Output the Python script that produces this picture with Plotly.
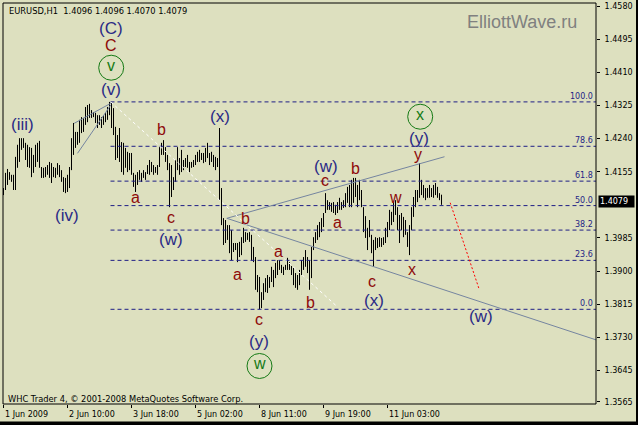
import plotly.graph_objects as go

# ---------------- data ----------------
highs = [
    1.4113, 1.4152, 1.4162, 1.4154, 1.4147, 1.4147, 1.4193, 1.4224, 1.4241, 1.4241,
    1.4241, 1.4229, 1.4224, 1.4218, 1.4216, 1.4198, 1.4224, 1.4229, 1.4234, 1.4167,
    1.4165, 1.4167, 1.4172, 1.4180, 1.4177, 1.4167, 1.4165, 1.4177, 1.4172, 1.4159,
    1.4141, 1.4139, 1.4147, 1.4167, 1.4241, 1.4280, 1.4257, 1.4257, 1.4288, 1.4295,
    1.4293, 1.4321, 1.4326, 1.4329, 1.4313, 1.4308, 1.4306, 1.4300, 1.4300, 1.4295,
    1.4300, 1.4306, 1.4321, 1.4334, 1.4332, 1.4318, 1.4270, 1.4249, 1.4267, 1.4231,
    1.4229, 1.4216, 1.4206, 1.4203, 1.4203, 1.4152, 1.4147, 1.4154, 1.4159, 1.4152,
    1.4159, 1.4154, 1.4172, 1.4185, 1.4180, 1.4172, 1.4167, 1.4172, 1.4218, 1.4229,
    1.4236, 1.4218, 1.4198, 1.4177, 1.4172, 1.4141, 1.4185, 1.4218, 1.4190, 1.4211,
    1.4185, 1.4190, 1.4198, 1.4180, 1.4180, 1.4185, 1.4198, 1.4206, 1.4211, 1.4203,
    1.4203, 1.4216, 1.4229, 1.4203, 1.4206, 1.4198, 1.4193, 1.4190, 1.4267, 1.4113,
    1.4036, 1.4031, 1.4018, 1.4018, 1.4005, 1.3972, 1.3972, 1.3972, 1.3975, 1.3987,
    1.4011, 1.4000, 1.3998, 1.4000, 1.3993, 1.3962, 1.3936, 1.3890, 1.3885, 1.3846,
    1.3869, 1.3882, 1.3890, 1.3885, 1.3911, 1.3903, 1.3921, 1.3928, 1.3928, 1.3916,
    1.3911, 1.3916, 1.3934, 1.3923, 1.3913, 1.3908, 1.3895, 1.3890, 1.3903, 1.3928,
    1.3936, 1.3954, 1.3936, 1.3928, 1.3962, 1.3987, 1.4000, 1.4018, 1.4026, 1.4036,
    1.4049, 1.4100, 1.4082, 1.4077, 1.4075, 1.4077, 1.4070, 1.4077, 1.4088, 1.4077,
    1.4082, 1.4100, 1.4116, 1.4121, 1.4134, 1.4139, 1.4139, 1.4121, 1.4134, 1.4108,
    1.4064, 1.4041, 1.4011, 1.4031, 1.3993, 1.3980, 1.3987, 1.3985, 1.3987, 1.3985,
    1.3987, 1.4011, 1.4026, 1.4057, 1.4052, 1.4077, 1.4082, 1.4064, 1.4044, 1.4049,
    1.4039, 1.4031, 1.4000, 1.4018, 1.4064, 1.4090, 1.4108, 1.4108, 1.4177, 1.4134,
    1.4121, 1.4113, 1.4113, 1.4121, 1.4113, 1.4121, 1.4126, 1.4116, 1.4100, 1.4096,
]
lows = [
    1.4095, 1.4108, 1.4121, 1.4134, 1.4129, 1.4108, 1.4108, 1.4165, 1.4180, 1.4211,
    1.4216, 1.4185, 1.4167, 1.4165, 1.4141, 1.4152, 1.4167, 1.4180, 1.4165, 1.4139,
    1.4139, 1.4141, 1.4147, 1.4139, 1.4126, 1.4141, 1.4139, 1.4147, 1.4141, 1.4129,
    1.4103, 1.4100, 1.4103, 1.4113, 1.4159, 1.4198, 1.4216, 1.4224, 1.4229, 1.4254,
    1.4257, 1.4275, 1.4282, 1.4293, 1.4293, 1.4295, 1.4280, 1.4267, 1.4275, 1.4267,
    1.4275, 1.4282, 1.4288, 1.4300, 1.4267, 1.4249, 1.4185, 1.4190, 1.4180, 1.4154,
    1.4147, 1.4165, 1.4154, 1.4159, 1.4147, 1.4116, 1.4103, 1.4121, 1.4134, 1.4129,
    1.4139, 1.4134, 1.4149, 1.4147, 1.4154, 1.4147, 1.4152, 1.4147, 1.4167, 1.4198,
    1.4198, 1.4180, 1.4159, 1.4064, 1.4090, 1.4108, 1.4129, 1.4159, 1.4147, 1.4154,
    1.4159, 1.4167, 1.4165, 1.4154, 1.4165, 1.4167, 1.4172, 1.4180, 1.4180, 1.4185,
    1.4177, 1.4180, 1.4190, 1.4172, 1.4180, 1.4167, 1.4159, 1.4167, 1.4082, 1.4018,
    1.3967, 1.3972, 1.3980, 1.3946, 1.3928, 1.3949, 1.3954, 1.3923, 1.3936, 1.3941,
    1.3972, 1.3975, 1.3980, 1.3975, 1.3928, 1.3923, 1.3852, 1.3846, 1.3802, 1.3805,
    1.3826, 1.3846, 1.3844, 1.3857, 1.3872, 1.3859, 1.3882, 1.3890, 1.3903, 1.3895,
    1.3890, 1.3903, 1.3903, 1.3903, 1.3890, 1.3864, 1.3857, 1.3852, 1.3864, 1.3890,
    1.3903, 1.3911, 1.3895, 1.3852, 1.3882, 1.3954, 1.3972, 1.3980, 1.3987, 1.4000,
    1.4013, 1.4049, 1.4057, 1.4057, 1.4052, 1.4049, 1.4044, 1.4049, 1.4057, 1.4057,
    1.4062, 1.4064, 1.4075, 1.4064, 1.4064, 1.4075, 1.4090, 1.4064, 1.4082, 1.4064,
    1.4000, 1.3985, 1.3954, 1.3987, 1.3946, 1.3911, 1.3954, 1.3959, 1.3962, 1.3962,
    1.3967, 1.3972, 1.3987, 1.4005, 1.4018, 1.4026, 1.4044, 1.4005, 1.3972, 1.4005,
    1.3987, 1.3993, 1.3962, 1.3941, 1.4005, 1.4039, 1.4064, 1.4077, 1.4088, 1.4095,
    1.4088, 1.4082, 1.4088, 1.4088, 1.4090, 1.4088, 1.4095, 1.4088, 1.4082, 1.4070,
]

time_ticks = [0, 32, 64, 96, 128, 160, 192]
time_labels = ["1 Jun 2009", "2 Jun 10:00", "3 Jun 18:00", "5 Jun 02:00",
               "8 Jun 11:00", "9 Jun 19:00", "11 Jun 03:00"]
price_ticks = [1.4580, 1.4495, 1.4410, 1.4325, 1.4240, 1.4155,
               1.3985, 1.3900, 1.3815, 1.3730, 1.3645, 1.3565]
price_tick_labels = ["1.4580", "1.4495", "1.4410", "1.4325", "1.4240", "1.4155",
                     "1.3985", "1.3900", "1.3815", "1.3730", "1.3645", "1.3565"]

fib_high = 1.4334
fib_low = 1.3802
fib_start = 53.5
fib_ratios = [0.0, 23.6, 38.2, 50.0, 61.8, 78.6, 100.0]

last_price = 1.4079
header_text = "EURUSD,H1  1.4096 1.4096 1.4070 1.4079"
watermark = "ElliottWave.ru"
footer_text = "WHC Trader 4, \u00a9 2001-2008 MetaQuotes Software Corp."

# trend lines: (bar0, price0, bar1, price1)
grey_lines = [
    (35.35, 1.42791, 53.65, 1.43304),
    (37.0, 1.42021, 53.65, 1.43261),
    (111.65, 1.40354, 220.5, 1.41934),
    (111.65, 1.40354, 296.5, 1.37232),
]
white_line = (53.65, 1.43338, 166.5, 1.38105)
red_line = (223.35, 1.40754, 237.85, 1.38533)

# wave labels: (text, bar, price)
blue_labels = [
    ("(C)", 53.85, 1.45228), ("(v)", 53.85, 1.43663), ("(iii)", 9.35, 1.42773),
    ("(iv)", 31.85, 1.40439), ("(w)", 83.5, 1.39798), ("(x)", 108.0, 1.42978),
    ("(y)", 127.5, 1.37189), ("(w)", 161.0, 1.41678), ("(x)", 185.0, 1.38241),
    ("(y)", 207.5, 1.42414), ("(w)", 238.65, 1.37830),
]
red_labels = [
    ("C", 53.5, 1.44756), ("b", 78.85, 1.42619), ("a", 66.0, 1.40824),
    ("c", 83.5, 1.40311), ("b", 121.0, 1.40311), ("a", 116.85, 1.38856),
    ("a", 137.5, 1.39464), ("c", 127.65, 1.37702), ("b", 153.5, 1.38174),
    ("c", 160.5, 1.41268), ("a", 167.0, 1.40208), ("b", 175.85, 1.41619),
    ("c", 184.15, 1.38687), ("w", 195.85, 1.40824), ("x", 204.0, 1.38985),
    ("y", 207.0, 1.41952),
]
circled_labels = [
    ("v", 53.85, 1.44217), ("w", 128.0, 1.36566), ("x", 208.35, 1.42960),
]

# ---------------- style ----------------
BG = "#DDE0BF"
BLUE = "#2A2A86"
RED = "#8E0A0A"
GREEN = "#157A15"
NAVY = "#1E1E86"
GREY = "#7585A0"
SYS_FONT = "DejaVu Sans"
WAVE_FONT = "Liberation Sans"

W, H = 638, 425
ML, MR, MT, MB = 3, 42, 3, 21
plot_w = W - ML - MR
plot_h = H - MT - MB
x_range = [-0.25, -0.25 + plot_w / 2.0]
y_range = [1.355909, 1.458770]

fig = go.Figure()

# bars (high-low)
bx, by = [], []
for i, (hi, lo) in enumerate(zip(highs, lows)):
    bx += [i, i, None]
    by += [lo, hi, None]
fig.add_trace(go.Scatter(x=bx, y=by, mode="lines",
                         line=dict(color="black", width=1),
                         hoverinfo="skip", showlegend=False))

shapes = []
annotations = []

# fibonacci levels
for r in fib_ratios:
    lvl = fib_low + (fib_high - fib_low) * r / 100.0
    shapes.append(dict(type="line", xref="x", yref="y", x0=fib_start, x1=x_range[1],
                       y0=lvl, y1=lvl, line=dict(color=NAVY, width=1, dash="4px,3px")))
    annotations.append(dict(x=1, xref="paper", y=lvl, yref="y", text=f"{r:.1f}",
                            showarrow=False, xanchor="right", yanchor="bottom",
                            xshift=-1, yshift=-1,
                            font=dict(family=SYS_FONT, size=8, color=NAVY)))

# trend lines
for (a0, p0, a1, p1) in grey_lines:
    shapes.append(dict(type="line", xref="x", yref="y", x0=a0, y0=p0, x1=a1, y1=p1,
                       line=dict(color=GREY, width=1)))
shapes.append(dict(type="line", xref="x", yref="y", x0=white_line[0], y0=white_line[1],
                   x1=white_line[2], y1=white_line[3],
                   line=dict(color="white", width=1, dash="3px,3px")))
shapes.append(dict(type="line", xref="x", yref="y", x0=red_line[0], y0=red_line[1],
                   x1=red_line[2], y1=red_line[3],
                   line=dict(color="red", width=1, dash="2px,2px")))

# circles
for (t, bx0, py0) in circled_labels:
    shapes.append(dict(type="circle", xref="x", yref="y", xsizemode="pixel",
                       ysizemode="pixel", xanchor=bx0, yanchor=py0,
                       x0=-12.5, x1=12.5, y0=-12.5, y1=12.5,
                       line=dict(color=GREEN, width=1)))
    annotations.append(dict(x=bx0, y=py0, xref="x", yref="y", text=t, showarrow=False,
                            yshift=2, font=dict(family=WAVE_FONT, size=16, color=GREEN)))

for (t, bx0, py0) in blue_labels:
    annotations.append(dict(x=bx0, y=py0, xref="x", yref="y", text=t, showarrow=False,
                            font=dict(family=WAVE_FONT, size=17, color=BLUE)))
for (t, bx0, py0) in red_labels:
    annotations.append(dict(x=bx0, y=py0, xref="x", yref="y", text=t, showarrow=False,
                            yshift=1 if t in ("C", "b") else 2,
                            font=dict(family=WAVE_FONT, size=16, color=RED)))

# frame and outer black strips
shapes.append(dict(type="rect", xref="paper", yref="paper", x0=0, x1=1, y0=0, y1=1,
                   line=dict(color="black", width=1), layer="above"))
shapes.append(dict(type="rect", xref="paper", yref="paper",
                   x0=(636 - ML) / plot_w, x1=(W + 5 - ML) / plot_w, y0=-0.2, y1=1.2,
                   line=dict(width=0), fillcolor="black"))
shapes.append(dict(type="rect", xref="paper", yref="paper", x0=-0.1, x1=1.2,
                   y0=(plot_h + MT - 421.5) / plot_h, y1=(plot_h + MT - H - 5) / plot_h,
                   line=dict(width=0), fillcolor="black"))

# texts
annotations.append(dict(x=(7 - ML) / plot_w, y=(plot_h + MT - 10.7) / plot_h,
                        xref="paper", yref="paper", text=header_text, showarrow=False,
                        xanchor="left", yanchor="middle",
                        font=dict(family=SYS_FONT, size=8.3, color="black")))
annotations.append(dict(x=(522 - ML) / plot_w, y=(plot_h + MT - 21.7) / plot_h,
                        xref="paper", yref="paper", text=watermark, showarrow=False,
                        xanchor="center", yanchor="middle",
                        font=dict(family=WAVE_FONT, size=18, color="#808080")))
annotations.append(dict(x=(6 - ML) / plot_w, y=(plot_h + MT - 399.3) / plot_h,
                        xref="paper", yref="paper", text=footer_text, showarrow=False,
                        xanchor="left", yanchor="middle",
                        font=dict(family=SYS_FONT, size=8.3, color="black")))
for tv, tl in zip(time_ticks, time_labels):
    annotations.append(dict(x=tv, xref="x", y=(plot_h + MT - 414) / plot_h, yref="paper",
                            text=tl, showarrow=False, xanchor="left", yanchor="middle",
                            xshift=-1,
                            font=dict(family=SYS_FONT, size=8, color="black")))
annotations.append(dict(x=(598 - ML) / plot_w, xref="paper", y=last_price, yref="y",
                        text=f"{last_price:.4f}", showarrow=False,
                        xanchor="left", yanchor="middle", bgcolor="black",
                        borderpad=1, width=33, height=9, align="left",
                        font=dict(family=SYS_FONT, size=8, color="white")))

fig.update_layout(
    width=W, height=H,
    margin=dict(l=ML, r=MR, t=MT, b=MB, pad=0),
    paper_bgcolor=BG, plot_bgcolor=BG,
    showlegend=False,
    hovermode=False,
    shapes=shapes,
    annotations=annotations,
    xaxis=dict(range=x_range, showgrid=False, zeroline=False, showline=False,
               tickvals=time_ticks, ticktext=[""] * len(time_ticks),
               ticks="outside", ticklen=3, tickcolor="black", tickwidth=1,
               fixedrange=True),
    yaxis=dict(range=y_range, side="right", showgrid=False, zeroline=False,
               showline=False, tickvals=price_ticks, ticktext=price_tick_labels,
               ticks="outside", ticklen=3, tickcolor="black", tickwidth=1,
               ticklabelstandoff=3,
               tickfont=dict(family=SYS_FONT, size=8, color="black"),
               fixedrange=True),
)

fig.write_html("out.html", config={"displayModeBar": False},
               post_script="document.body.style.margin='0px';document.body.style.padding='0px';document.body.style.overflow='hidden';")
